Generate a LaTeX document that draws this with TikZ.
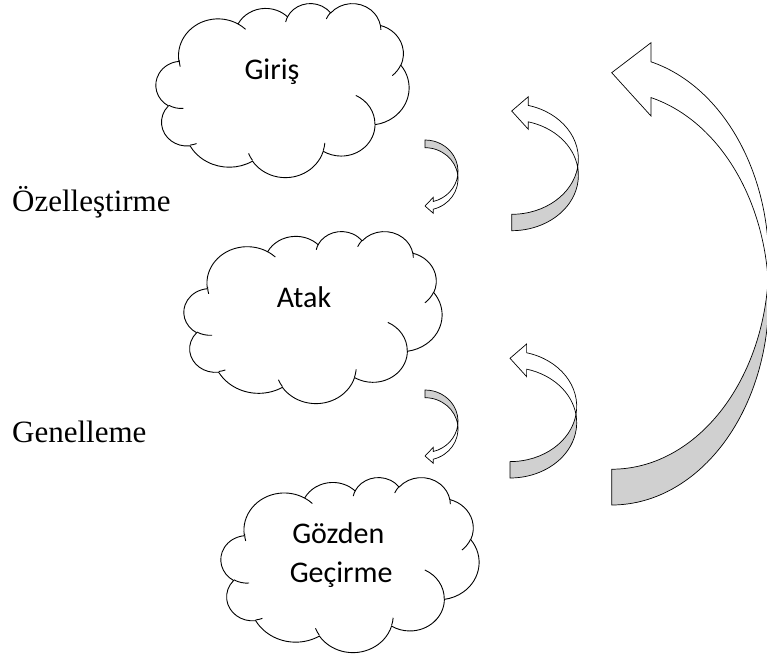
\documentclass[tikz,border=0pt]{standalone}
\usepackage{fontspec}
\newfontfamily\calfont{Carlito}
\newfontfamily\serfont{Liberation Serif}
\definecolor{shadegray}{HTML}{D0D0D0}
\tikzset{
  cloudline/.style={draw=black, line width=0.9pt, line join=round},
  arrowline/.style={draw=black, line width=0.7pt, line join=miter},
  backface/.style={arrowline, fill=shadegray},
  frontface/.style={arrowline, fill=white},
  cloudtext/.style={font=\calfont\fontsize{30}{36}\selectfont, inner sep=0pt},
  labeltext/.style={font=\serfont\fontsize{31}{37}\selectfont, inner sep=0pt},
}
% DrawingML-style arcTo: wR hR stAng swAng (visual angles, y down)
\newcommand\warc[4]{%
  \pgfextra{%
    \pgfmathparse{atan2((#1)*sin(#3),(#2)*cos(#3))}\xdef\wtS{\pgfmathresult}%
    \pgfmathparse{atan2((#1)*sin((#3)+(#4)),(#2)*cos((#3)+(#4)))}\xdef\wtE{\pgfmathresult}%
    \pgfmathparse{\wtE-\wtS+360*round((\wtS+(#4)-\wtE)/360)}\xdef\wtD{\pgfmathresult}%
  }%
  arc[start angle=\wtS, delta angle=\wtD, x radius=#1, y radius=#2]%
}
\newcommand\wordcloud[4]{%
  \begin{scope}[shift={(#1,#2)}, xscale=#3/432, yscale=#4/432]
    \path[cloudline, fill=white] (39.00,143.70)
      \warc{67.53}{91.90}{-190.4875}{123.7805}
      \warc{53.33}{72.67}{-144.1024}{89.9452}
      \warc{43.65}{59.45}{-145.8079}{99.7230}
      \warc{48.57}{65.95}{-130.9861}{117.2417}
      \warc{53.33}{72.73}{-78.7089}{109.0269}
      \warc{67.75}{92.20}{-46.2673}{130.2690}
      \warc{57.85}{78.67}{0.6250}{114.0333}
      \warc{67.52}{92.15}{22.4516}{115.1726}
      \warc{77.20}{105.43}{66.2426}{75.7110}
      \warc{43.60}{59.18}{-274.9421}{146.7356}
      \warc{43.45}{59.45}{-246.8285}{152.5189} -- cycle;
    \path[cloudline]
      (46.93,261.77) \warc{43.45}{59.45}{86.7420}{26.4295}
      (69.28,348.99) \warc{43.60}{59.18}{73.6105}{11.4475}
      (164.78,390.90) \warc{67.52}{92.15}{137.6242}{14.0811}
      (288.27,347.51) \warc{67.52}{92.15}{6.4533}{15.9984}
      (341.29,229.54) \warc{57.85}{78.67}{-70.2924}{70.9174}
      (417.98,153.54) \warc{53.33}{72.73}{30.3180}{27.7515}
      (383.24,54.26) \warc{48.57}{65.95}{-13.7443}{14.8512}
      (290.78,39.52) \warc{48.57}{65.95}{-149.1815}{18.1970}
      (221.41,47.20) \warc{43.65}{59.45}{-163.4943}{17.6872}
      (140.00,51.92) \warc{67.53}{91.90}{-66.7070}{12.3194}
      (41.27,157.89) \warc{67.53}{91.90}{162.0363}{14.2144};
  \end{scope}
}
% curved arrow, tail at bottom, head at top pointing left
% cx rx ry cyQ t hb ywTop ytip ywBot
\newcommand\uparrowshape[9]{%
  \pgfmathsetmacro\aQc{asin((#5)/(2*(#3)))}%
  \pgfmathsetmacro\aH{acos(((#6)-(#1))/(#2))}%
  \pgfmathsetmacro\cyP{(#4)+(#5)}%
  \path[backface] (#1,\cyP+#3)
    arc[start angle=90, end angle=-\aQc, x radius=#2, y radius=#3]
    arc[start angle=\aQc, end angle=90, x radius=#2, y radius=#3] -- cycle;
  \path[frontface] ([shift={(#1,#4)}]\aQc:#2 and #3)
    arc[start angle=\aQc, end angle=-\aH, x radius=#2, y radius=#3]
    -- (#6,#7) -- (#1,#8) -- (#6,#9) -- ([shift={(#1,\cyP)}]-\aH:#2 and #3)
    arc[start angle=-\aH, end angle=-\aQc, x radius=#2, y radius=#3] -- cycle;
}
% curved arrow, tail at top, head at bottom pointing left
\newcommand\downarrowshape[9]{%
  \pgfmathsetmacro\aQc{asin((#5)/(2*(#3)))}%
  \pgfmathsetmacro\aH{acos(((#6)-(#1))/(#2))}%
  \pgfmathsetmacro\cyL{(#4)+(#5)}%
  \path[backface] (#1,#4-#3)
    arc[start angle=-90, end angle=\aQc, x radius=#2, y radius=#3]
    arc[start angle=-\aQc, end angle=-90, x radius=#2, y radius=#3] -- cycle;
  \path[frontface] ([shift={(#1,#4)}]\aQc:#2 and #3)
    arc[start angle=\aQc, end angle=\aH, x radius=#2, y radius=#3]
    -- (#6,#7) -- (#1,#8) -- (#6,#9) -- ([shift={(#1,\cyL)}]\aH:#2 and #3)
    arc[start angle=\aH, end angle=-\aQc, x radius=#2, y radius=#3] -- cycle;
}
\begin{document}
\begin{tikzpicture}[x=1pt, y=-1pt]
  \useasboundingbox (0,0) rectangle (767,655);
  \fill[white] (0,0) rectangle (767,655);

  \wordcloud{156}{3}{253}{174}
  \wordcloud{184}{231}{258}{172}
  \wordcloud{221}{477}{258}{175}

  \node[cloudtext, anchor=base] (giris) at (272,80) {Giriş};
  \node[cloudtext, anchor=base] (atak) at (304,307.3) {Atak};
  \node[cloudtext, anchor=base] (gozden) at (338.3,543.3) {Gözden};
  \node[cloudtext, anchor=base] (gecirme) at (341.2,582) {Geçirme};

  \node[labeltext, anchor=base west] (ozel) at (12,211.7) {Özelleştirme};
  \node[labeltext, anchor=base west] (genel) at (12,442) {Genelleme};

  \downarrowshape{425}{33}{31.25}{171.25}{7.7}{433.3}{197.3}{206}{213.3}
  \downarrowshape{425}{33}{31.25}{421.25}{7.7}{433.3}{447.3}{456}{463.3}
  \uparrowshape{511.7}{66.7}{55.3}{159.0}{16.4}{528.3}{96.7}{111}{129.3}
  \uparrowshape{510}{66.7}{55.3}{406.3}{16.4}{526.6}{344}{358.3}{376.6}
  \uparrowshape{611.7}{157}{207}{262.2}{35.8}{651}{42.7}{72.7}{116}
\end{tikzpicture}
\end{document}
